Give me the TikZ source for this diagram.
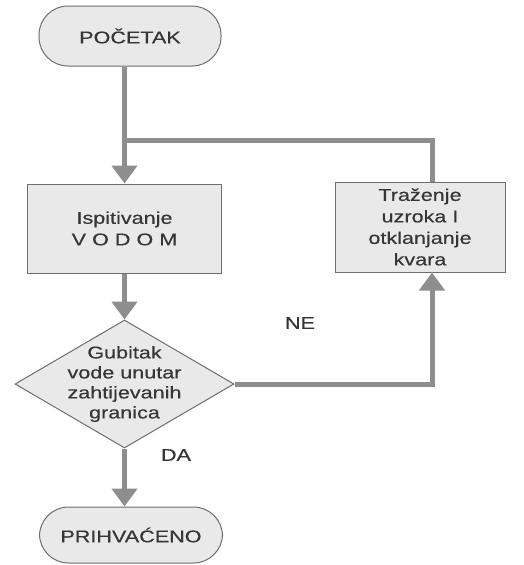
\documentclass[tikz,border=0pt]{standalone}
\usepackage{fontspec}
\setmainfont{Liberation Sans}[FakeStretch=1.27,FakeBold=0.4]
\usetikzlibrary{shapes.geometric,arrows.meta}
\definecolor{boxfill}{HTML}{E9E9E9}
\definecolor{boxline}{HTML}{6E6E6E}
\definecolor{arrgray}{HTML}{8E8E8E}
\definecolor{txt}{HTML}{363636}
\begin{document}
\begin{tikzpicture}[x=1pt,y=-1pt,
  box/.style={draw=boxline, fill=boxfill, line width=1pt, align=center, inner sep=0pt,
    font=\fontsize{17}{21.5}\selectfont, text=txt},
  term/.style={box, rounded corners=29pt},
  flowline/.style={draw=arrgray, line width=5pt},
  flowarr/.style={flowline, -{Triangle[width=25pt,length=18pt]}},
  lbl/.style={font=\fontsize{17}{20}\selectfont, text=txt, inner sep=0pt}
]
\useasboundingbox (0,0) rectangle (524,565);
\fill[white] (0,0) rectangle (524,565);

\node[term, minimum width=182pt, minimum height=60pt] (start) at (130,36) {POČETAK};
\node[box, minimum width=194pt, minimum height=89pt] (test) at (124.5,228.5) {Ispitivanje\\V O D O M};
\node[box, minimum width=170pt, minimum height=90pt] (fix) at (420,227) {Traženje\\uzroka I\\otklanjanje\\kvara};
\node[diamond, draw=boxline, fill=boxfill, line width=1pt, minimum width=219pt, minimum height=128pt, inner sep=0pt] (dec) at (124.5,384) {};
\node[lbl, align=center] (dectext) at (dec.center) {Gubitak\\vode unutar\\zahtijevanih\\granica};
\node[term, minimum width=183pt, minimum height=56pt] (end) at (131,535) {PRIHVAĆENO};

\coordinate (loopx) at (432,0);
\coordinate (join) at (124.5,140);

\draw[flowarr] (test.north |- start.south) -- (test.north);
\draw[flowline] (fix.north -| loopx) |- (join);
\draw[flowarr] (test.south) -- (dec.north);
\draw[flowarr] (dec.east) -| (fix.south -| loopx);
\draw[flowarr] (dec.south) -- (end.north -| dec.south);

\node[lbl] (ne) at (300,323) {NE};
\node[lbl] (da) at (176,455) {DA};
\end{tikzpicture}
\end{document}
